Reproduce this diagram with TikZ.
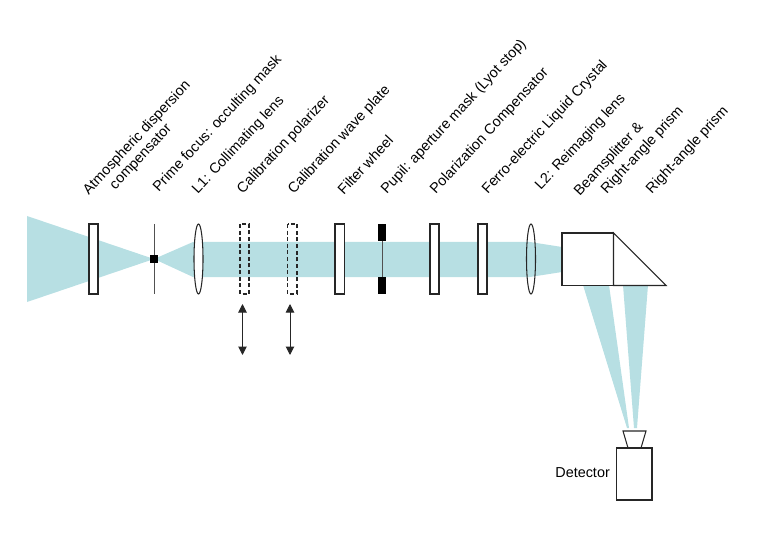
\documentclass[tikz,border=0pt]{standalone}
\usepackage{fontspec}
\setmainfont{Liberation Sans}
\usetikzlibrary{arrows.meta}
\definecolor{beam}{HTML}{B7DFE3}
\definecolor{ln}{HTML}{262626}
\tikzset{
  lbl/.style={rotate=47,anchor=west,inner sep=0pt,font=\fontsize{14.4}{17}\selectfont},
  optic/.style={draw=ln,line width=1.05pt,fill=white},
  dash box/.style={draw=ln,line width=1.05pt,dash pattern=on 4pt off 2.6pt,fill=none},
  thin line/.style={draw=ln!80,line width=1pt},
  blob/.style={fill=black,draw=none},
  move/.style={draw=ln,line width=1pt,{Triangle[length=8.5pt,width=8.5pt]}-{Triangle[length=8.5pt,width=8.5pt]}}
}
\begin{document}
\begin{tikzpicture}[x=1pt,y=-1pt]
\useasboundingbox (0,0) rectangle (773,545);
% beams
\fill[beam] (27,216) -- (154,259) -- (27,302) -- cycle;
\fill[beam] (154,259) -- (193,242) -- (530,242) -- (562,247) -- (562,272) -- (530,277) -- (193,277) -- cycle;
\fill[beam] (583,285) -- (609,285) -- (629,428) -- (627,428) -- cycle;
\fill[beam] (623,285) -- (648,285) -- (637,428) -- (634,428) -- cycle;
% optics
\draw[optic] (89,224) rectangle (98,294);
\draw[thin line] (154,224) -- (154,294);
\fill[blob] (150,255) rectangle (158,263);
\draw[optic] (198.5,259) ellipse [x radius=4.5,y radius=35];
\draw[dash box] (240,224) rectangle (249,294);
\draw[dash box] (287.5,224) rectangle (297,294);
\draw[optic] (335,224) rectangle (344.5,294);
\draw[thin line] (382,224) -- (382,294);
\fill[blob] (378,224) rectangle (386,241.5);
\fill[blob] (378,277) rectangle (386,294);
\draw[optic] (430,224) rectangle (439,294);
\draw[optic] (478,224) rectangle (487,294);
\draw[optic,fill=none] (531,259) ellipse [x radius=4.5,y radius=35];
\draw[optic] (562,233) rectangle (613.5,285.5);
\draw[optic] (613.5,233) -- (666,285.5) -- (613.5,285.5) -- cycle;
% movement arrows
\coordinate (a1t) at (242.5,304); \coordinate (a1b) at (242.5,355);
\coordinate (a2t) at (290,304); \coordinate (a2b) at (290,355);
\draw[move] (a1t) -- (a1b);
\draw[move] (a2t) -- (a2b);
% detector
\draw[optic] (623,431) -- (646,431) -- (641,448) -- (628,448) -- cycle;
\draw[optic] (616.5,448) rectangle (652,500);
\node[inner sep=0pt,font=\fontsize{14.4}{17}\selectfont,anchor=east] (det) at (610,473) {Detector};
% labels
\node[lbl] (l1) at (86,193) {Atmospheric dispersion};
\node[lbl] (l1b) at (113,188) {compensator};
\node[lbl] (l2) at (156,190) {Prime focus: occulting mask};
\node[lbl] (l3) at (195,192) {L1: Collimating lens};
\node[lbl] (l4) at (240,192) {Calibration polarizer};
\node[lbl] (l5) at (291,192) {Calibration wave plate};
\node[lbl] (l6) at (340,192) {Filter wheel};
\node[lbl] (l7) at (384,192) {Pupil: aperture mask (Lyot stop)};
\node[lbl] (l8) at (433,192) {Polarization Compensator};
\node[lbl] (l9) at (485,192) {Ferro-electric Liquid Crystal};
\node[lbl] (l10) at (538,188) {L2: Reimaging lens};
\node[lbl] (l11) at (577,194) {Beamsplitter \&};
\node[lbl] (l11b) at (604,192) {Right-angle prism};
\node[lbl] (l12) at (649,192) {Right-angle prism};
\end{tikzpicture}
\end{document}
